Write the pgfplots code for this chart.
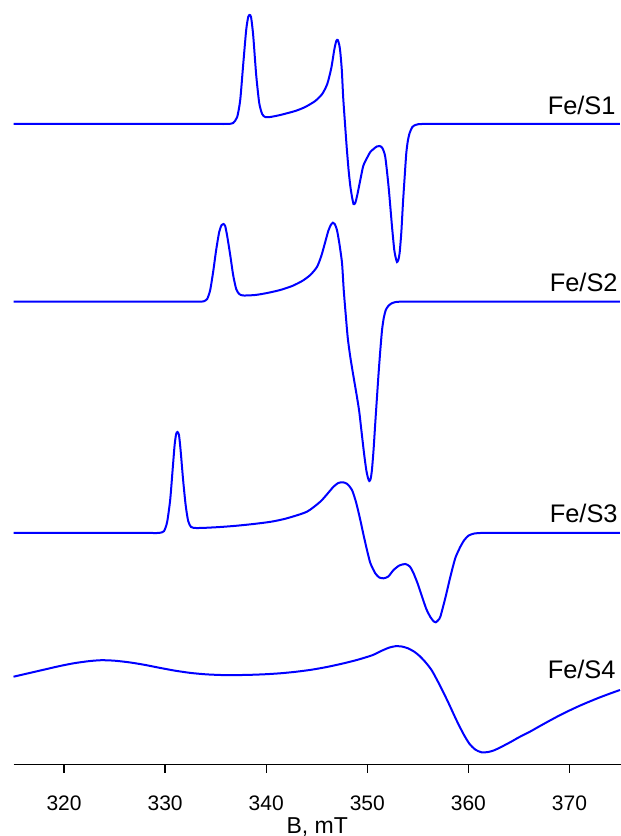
\documentclass[border=0pt]{standalone}
\usepackage{pgfplots}
\pgfplotsset{compat=1.18}
\usepackage{fontspec}
\setmainfont{Liberation Sans}
\definecolor{epr}{RGB}{0,0,255}
\begin{document}
\begin{tikzpicture}
\begin{axis}[
    name=ax,
    scale only axis,
    width=303.75pt, height=382.35pt,
    xmin=315, xmax=375.1,
    ymin=0, ymax=764.7,
    axis x line=bottom,
    axis y line=none,
    axis line style={-, line width=0.65pt},
    xtick={320,330,...,370},
    xtick align=outside,
    major tick length=4pt,
    major tick style={line width=0.65pt, black},
    minor tick num=0,
    /pgf/number format/assume math mode=true,
    xticklabel style={font=\fontsize{10.5}{12}\selectfont, anchor=base, yshift=-19pt},
    xlabel={B, mT},
    xlabel style={font=\fontsize{11.5}{13}\selectfont, at={(axis description cs:0.5,0)}, anchor=base, yshift=-34.3pt},
    clip=false,
    spec/.style={color=epr, line width=1pt, smooth, tension=0.4, mark=none},
]

% Fe/S1
\addplot[spec] coordinates {
(315,640.7) (322,640.7) (327,640.7) (330.5,640.7) (333,640.7) (334.6,640.7) (335.5,640.7)
(335.95,640.7) (336.3,640.8) (336.73,641.7) (337.13,647.7) (337.43,664.7) (337.72,699.7)
(338.02,734.7) (338.22,747.7) (338.35,749.7) (338.50,747.7) (338.71,729.7) (339.01,689.7)
(339.31,661.7) (339.60,650.7) (339.90,647.7) (340.40,647.7) (341.39,649.7) (342.87,653.7)
(343.86,657.7) (344.85,663.7) (345.54,670.7) (346.04,680.7) (346.44,696.7) (346.73,714.7)
(346.93,723.7) (347.08,724.7) (347.23,719.7) (347.33,712.7) (347.48,694.7) (347.62,666.7)
(347.82,637.7) (347.97,616.7) (348.15,594.7) (348.32,578.7) (348.49,567.7) (348.64,560.7)
(348.81,561.7) (349.01,569.7) (349.31,584.7) (349.60,598.7) (349.97,606.7) (350.30,612.7)
(350.62,615.7) (350.94,618.2) (351.22,618.7) (351.49,616.7) (351.78,607.7) (352.11,577.7)
(352.45,537.7) (352.67,514.7) (352.82,506.7) (352.94,502.7) (353.07,504.7) (353.20,511.7)
(353.37,532.7) (353.53,561.7) (353.71,589.7) (353.86,611.7) (354.01,623.7) (354.19,631.7)
(354.46,637.7) (354.75,639.7) (355.05,640.5) (355.4,640.7) (355.9,640.7) (356.7,640.7)
(358,640.7) (360.5,640.7) (364.5,640.7) (369.5,640.7) (375,640.7)
};

% Fe/S2
\addplot[spec] coordinates {
(315,463) (320,463) (325,463) (328.5,463) (330.8,463) (332.2,463) (333,463) (333.45,463)
(333.8,463.3) (334.16,465.7) (334.46,474.7) (334.75,492.7) (335.05,514.7)
(335.35,532.7) (335.59,539.7) (335.77,540.7) (335.94,538.7) (336.14,528.7) (336.44,509.7)
(336.73,489.7) (337.03,475.7) (337.33,470.7) (337.72,469.2) (338.91,469.7) (340.10,471.7)
(341.39,474.7) (342.57,478.7) (343.56,483.7) (344.36,489.7) (345.02,497.7) (345.45,508.7)
(345.84,522.7) (346.14,533.7) (346.39,539.7) (346.60,542) (346.78,540.7) (347.00,534.7)
(347.23,521.7) (347.50,501.7) (347.67,474.7) (347.87,449.7) (348.07,426.7) (348.32,407.7)
(348.61,389.7) (348.98,367.7) (349.21,352.7) (349.48,328.7) (349.70,309.7) (349.90,294.7)
(350.07,286.7) (350.20,283.7) (350.33,285.7) (350.46,294.7) (350.62,314.7) (350.79,341.7)
(350.96,367.7) (351.12,391.7) (351.29,414.7) (351.46,434.7) (351.63,446.7) (351.83,454.7)
(352.08,458.7) (352.38,461.2) (352.77,462.6) (353.2,463) (353.8,463) (354.7,463)
(356.2,463) (358.7,463) (362.5,463) (368,463) (375,463)
};

% Fe/S3
\addplot[spec] coordinates {
(315,231.7) (320,231.7) (324,231.7) (326.5,231.7) (328,231.7) (328.8,231.7) (329.2,231.7)
(329.55,232) (329.90,233.7) (330.20,242.7) (330.50,264.7) (330.74,294.7)
(330.94,319.7) (331.09,330.7) (331.22,332.7) (331.37,329.7) (331.53,314.7) (331.78,284.7)
(332.03,259.7) (332.28,243.7) (332.57,237.7) (333.07,236.7) (334,236.9) (335.45,237.7)
(337,238.9) (338.74,240.7) (340.5,243) (342.05,246.4) (344.03,253) (345.35,263)
(346.04,270.7) (346.66,278) (347.13,281.7)
(347.59,282.4) (348.02,280.7) (348.49,274.7) (348.91,261.7) (349.31,244.7) (349.63,229.7)
(349.97,214.7) (350.30,201.7) (350.79,191.4) (351.19,187.2) (351.61,186.4) (352.08,188.2)
(352.60,194.7) (353.17,199.2) (353.76,200.7) (354.21,198.2) (354.58,191.4) (355.00,180.7)
(355.42,168) (355.84,155.7) (356.24,147.7) (356.58,143.2) (356.78,142.4) (357.03,144.7)
(357.23,148) (357.72,166.7) (358.22,188) (358.71,206.7) (359.21,218) (359.60,224.7)
(360.03,229.2) (360.59,231.2) (361.19,231.7) (361.9,231.7) (362.8,231.7) (364.2,231.7)
(366.5,231.7) (370,231.7) (375,231.7)
};

% Fe/S4
\addplot[spec] coordinates {
(315,88) (316.5,91.5) (318,95) (319.5,98.5) (321,101.5) (322.5,103.6) (323.7,104.5)
(325,104) (326.5,102.3) (328,99.8) (329.5,96.8) (331,94) (332.5,91.8) (334,90.4)
(335.5,89.7) (337,89.6) (338.5,89.9) (340,90.5) (341.5,91.5) (343,93) (344.5,95)
(346,97.7) (347.5,101) (349,104.8) (350.5,109.5) (351.5,114.3) (352.2,117.2) (352.8,118.5)
(353.4,118.2) (354.0,116.5) (354.6,113.3) (355.2,108.5) (355.8,102) (356.4,94) (357.2,79) (358,62.5)
(358.8,45) (359.5,31) (360.1,21) (360.7,15) (361.3,12.4) (361.9,12.6) (362.5,14.2)
(363.2,17.5) (364.2,22.8) (365,27.4) (366,32.5) (367,38.2) (368,43.8) (369,49.2)
(370,54.2) (371,58.9) (372,63.2) (373,67.3) (374,71.1) (375,74.7)
};

\begin{scope}[every node/.style={anchor=base east, inner sep=0pt, font=\fontsize{12.7}{14}\selectfont}]
\node at (axis cs:374.6,649.7) {Fe/S1};
\node at (axis cs:374.8,473) {Fe/S2};
\node at (axis cs:374.8,242) {Fe/S3};
\node at (axis cs:374.6,86.4) {Fe/S4};
\end{scope}
\end{axis}
\pgfresetboundingbox
\path ([shift={(-6.75pt,-35.65pt)}]ax.south west) rectangle (ax.north east);
\end{tikzpicture}
\end{document}
